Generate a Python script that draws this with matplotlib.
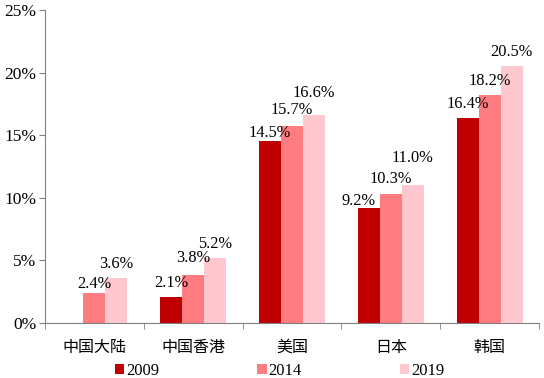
import numpy as np
import matplotlib
matplotlib.use('Agg')
import matplotlib.pyplot as plt


regions = ['中国大陆', '中国香港', '美国', '日本', '韩国']
years = ['2009', '2014', '2019']
share_2009 = [np.nan, 2.1, 14.5, 9.2, 16.4]
share_2014 = [2.4, 3.8, 15.7, 10.3, 18.2]
share_2019 = [3.6, 5.2, 16.6, 11.0, 20.5]
colors = ['#C00000', '#FF7C80', '#FFC7CE']

# label nudges (pixels) where the labels were staggered by hand
label_shift = {(0, 1): (0, 5), (2, 0): (0, 4), (2, 1): (0, 12), (2, 2): (0, 18),
               (3, 0): (-10, 3), (3, 1): (0, 11), (3, 2): (0, 23), (1, 1): (0, 13)}

plt.rcParams['font.family'] = ['Liberation Serif', 'Noto Sans CJK SC']

fig = plt.figure(figsize=(5.44, 3.78), dpi=100)
ax = fig.add_axes([0.0827, 0.1455, 0.9083, 0.828])

x = np.arange(len(regions))
w = 0.222
for k, (vals, c, yr) in enumerate(zip([share_2009, share_2014, share_2019], colors, years)):
    pos = x + (k - 1) * w
    ax.bar(pos, vals, width=w, color=c, label=yr)
    for i, (p, v) in enumerate(zip(pos, vals)):
        if np.isnan(v):
            continue
        dx, dy = label_shift.get((i, k), (0, 10))
        ax.annotate(f'{v:.1f}%', xy=(p, v), xytext=(dx, dy), textcoords='offset pixels',
                    ha='center', va='baseline', fontsize=11.8)

ax.set_xlim(-0.5, len(regions) - 0.5)
ax.set_ylim(0, 25)
ax.set_yticks(range(0, 26, 5))
ax.set_yticklabels([f'{t}%' for t in range(0, 26, 5)], fontsize=12.5)
ax.set_xticks(x)
ax.set_xticklabels(regions, fontsize=11.5)
ax.set_xticks(np.arange(-0.5, len(regions)), minor=True)
ax.tick_params(axis='x', which='major', length=0, pad=12)
ax.tick_params(axis='x', which='minor', length=4, color='#808080')
ax.tick_params(axis='y', length=4, color='#808080', pad=2)
for s in ['top', 'right']:
    ax.spines[s].set_visible(False)
for s in ['left', 'bottom']:
    ax.spines[s].set_color('#808080')

fig.legend(loc='lower center', bbox_to_anchor=(0.514, -0.043), ncol=3, frameon=False,
           fontsize=12, handlelength=0.55, handleheight=0.55, handletextpad=0.12,
           columnspacing=5.9)

fig.savefig('out.png', dpi=100)
